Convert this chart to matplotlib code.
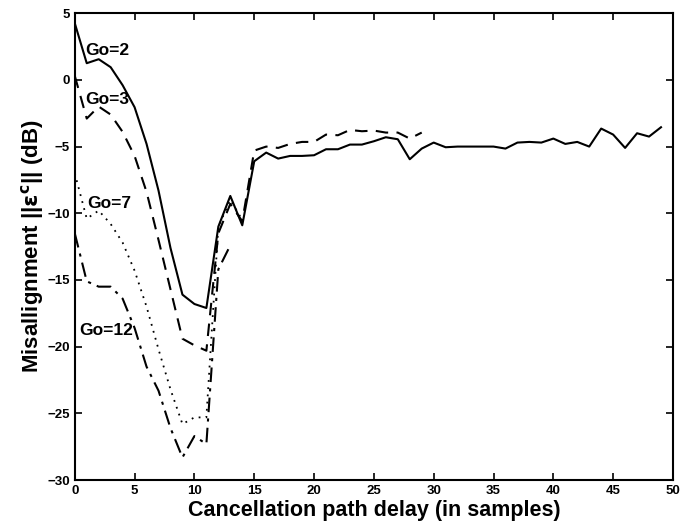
import matplotlib
matplotlib.use("Agg")
import matplotlib.pyplot as plt

plt.rcParams['font.family'] = ['Liberation Sans', 'DejaVu Sans']
plt.rcParams['font.weight'] = 'bold'
plt.rcParams['mathtext.default'] = 'bf'

# misalignment (dB) vs cancellation path delay, one series per Go
delay_go2 = list(range(0, 50))
mis_go2 = [4.25, 1.25, 1.55, 0.95, -0.4, -2.05, -4.8, -8.3, -12.6, -16.1,
           -16.8, -17.1, -11.0, -8.7, -10.9, -6.1, -5.45, -5.9, -5.7, -5.7,
           -5.65, -5.2, -5.2, -4.85, -4.85, -4.6, -4.3, -4.45, -5.95, -5.15,
           -4.7, -5.05, -5.0, -5.0, -5.0, -5.0, -5.15, -4.7, -4.65, -4.7,
           -4.4, -4.8, -4.65, -5.0, -3.65, -4.1, -5.1, -4.0, -4.25, -3.55]

delay_go3 = list(range(0, 30))
mis_go3 = [0.3, -2.9, -2.0, -2.6, -3.9, -5.7, -8.4, -12.0, -15.7, -19.4,
           -19.9, -20.3, -11.5, -9.3, -10.6, -5.3, -5.0, -5.1, -4.8, -4.65,
           -4.65, -4.1, -4.15, -3.75, -3.85, -3.8, -3.95, -3.95, -4.4, -3.95]

delay_go7 = list(range(0, 15))
mis_go7 = [-7.0, -10.4, -9.8, -10.8, -12.2, -14.3, -17.0, -20.2, -23.2, -25.8,
           -25.3, -25.3, -11.0, -9.0, -10.5]

delay_go12 = list(range(0, 14))
mis_go12 = [-11.5, -15.1, -15.5, -15.5, -16.4, -18.6, -21.5, -23.3, -26.1, -28.3,
            -26.7, -27.3, -14.2, -12.4]

labels = ['Go=2', 'Go=3', 'Go=7', 'Go=12']
label_x = [2.75, 2.7, 2.9, 2.65]
label_y = [2.2, -1.45, -9.25, -18.75]

fig = plt.figure(figsize=(6.86, 5.27), dpi=100)
ax = fig.add_axes([0.109, 0.089, 0.872, 0.886])

ax.plot(delay_go2, mis_go2, color='black', linestyle='-', linewidth=1.5)
ax.plot(delay_go3, mis_go3, color='black', linestyle=(0, (6, 4)), linewidth=1.5)
ax.plot(delay_go7, mis_go7, color='black', linestyle=(0, (1, 3)), linewidth=1.3)
ax.plot(delay_go12, mis_go12, color='black', linestyle=(0, (7, 3, 1.5, 3)), linewidth=1.5)

for lab, lx, ly in zip(labels, label_x, label_y):
    ax.text(lx, ly, lab, ha='center', va='center', fontsize=12.5, fontweight='bold')

ax.set_xlim(0, 50)
ax.set_ylim(-30, 5)
ax.set_xticks(range(0, 51, 5))
ax.set_yticks(range(-30, 6, 5))
ax.tick_params(direction='in', top=True, right=True, labelsize=9.5, length=5, width=1.2)
for tl in ax.get_xticklabels() + ax.get_yticklabels():
    tl.set_fontweight('bold')
for sp in ax.spines.values():
    sp.set_linewidth(1.5)

ax.set_xlabel('Cancellation path delay (in samples)', fontsize=15.5, fontweight='bold', labelpad=2)
ax.set_ylabel(r'Misallignment ||$\varepsilon^c$|| (dB)', fontsize=16, fontweight='bold', labelpad=1)

fig.savefig('out.png', dpi=100)
